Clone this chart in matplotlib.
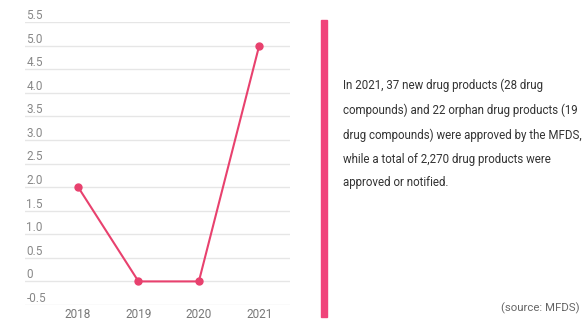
import matplotlib.pyplot as plt
import matplotlib.transforms as mtransforms
from matplotlib.patches import Rectangle

# data
years = [2018, 2019, 2020, 2021]
values = [2, 0, 0, 5]
yticks = [-0.5, 0, 0.5, 1.0, 1.5, 2.0, 2.5, 3.0, 3.5, 4.0, 4.5, 5.0, 5.5]
ytick_labels = ['-0.5', '0', '0.5', '1.0', '1.5', '2.0', '2.5', '3.0',
                '3.5', '4.0', '4.5', '5.0', '5.5']
note = ('In 2021, 37 new drug products (28 drug\n'
        'compounds) and 22 orphan drug products (19\n'
        'drug compounds) were approved by the MFDS,\n'
        'while a total of 2,270 drug products were\n'
        'approved or notified.')
source = '(source: MFDS)'

pink = '#e8416e'
plt.rcParams['font.family'] = ['Roboto', 'DejaVu Sans']

W, H = 586, 320
fig = plt.figure(figsize=(W / 100, H / 100), dpi=100)
ax = fig.add_axes([25 / W, 1 - 305 / H, 265 / W, 283 / H])
ax.set_xlim(2017.12, 2021.51)
ax.set_ylim(-0.5, 5.5)

for s in ax.spines.values():
    s.set_visible(False)
ax.set_yticks(yticks)
ax.set_yticklabels([])
ax.tick_params(axis='y', length=0)
ax.grid(axis='y', color='#e6e6e6', linewidth=1)
ax.set_axisbelow(True)

ax.set_xticks(years)
ax.set_xticklabels([str(y) for y in years])
ax.tick_params(axis='x', length=0, pad=2, labelsize=8.5, labelcolor='#777777')

# y labels sit above their gridlines, inside the plot
trans = mtransforms.blended_transform_factory(ax.transAxes, ax.transData)
for v, lab in zip(yticks, ytick_labels):
    ax.text(0.005, v, lab, transform=trans, ha='left', va='bottom',
            fontsize=8.5, color='#888888')

ax.plot(years, values, color=pink, linewidth=1.5, marker='o',
        markersize=5, clip_on=False)

# side bar and note
fig.patches.append(Rectangle((321 / W, 1 - 317 / H), 6 / W, 297 / H,
                             transform=fig.transFigure, color='#f0437a'))
fig.text(343 / W, 1 - 79 / H, note, ha='left', va='top', fontsize=8.3,
         color='#333333', linespacing=2.08)
fig.text(580 / W, 1 - 308 / H, source, ha='right', va='center',
         fontsize=8.2, color='#666666')

fig.savefig('out.png', dpi=100, facecolor='white')
